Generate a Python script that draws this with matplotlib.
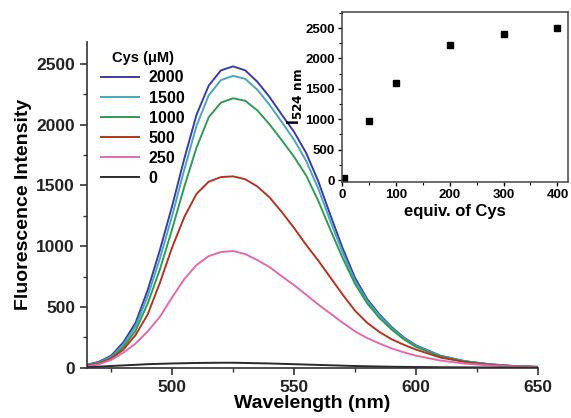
import matplotlib
matplotlib.use("Agg")
import matplotlib.pyplot as plt
from matplotlib.ticker import MultipleLocator

plt.rcParams['font.family'] = ['Liberation Sans', 'DejaVu Sans']
plt.rcParams['font.weight'] = 'bold'

# lunghezze d'onda (nm)
wavelength = [465, 470, 475, 480, 485, 490, 495, 500, 505, 510, 515, 520, 525,
              530, 535, 540, 545, 550, 555, 560, 565, 570, 575, 580, 585, 590,
              595, 600, 610, 620, 630, 640, 650]

# spettri di emissione per ogni concentrazione di Cys
cys_2000 = [25, 50, 100, 210, 370, 640, 970, 1330, 1720, 2080, 2320, 2445, 2478,
            2445, 2350, 2225, 2080, 1940, 1765, 1530, 1250, 980, 740, 565, 440, 335,
            250, 185, 100, 55, 30, 15, 8]
cys_1500 = [22, 45, 90, 190, 340, 590, 900, 1250, 1630, 1990, 2240, 2365, 2400,
            2375, 2285, 2160, 2020, 1875, 1700, 1470, 1200, 945, 715, 550, 430, 328,
            245, 180, 98, 54, 29, 15, 8]
cys_1000 = [20, 40, 80, 170, 305, 530, 810, 1140, 1490, 1810, 2060, 2180, 2216,
            2195, 2115, 2000, 1870, 1735, 1580, 1370, 1130, 900, 690, 530, 410, 315,
            235, 172, 94, 52, 28, 14, 7]
cys_500 = [15, 35, 75, 150, 270, 440, 700, 990, 1240, 1430, 1530, 1568, 1574,
           1550, 1490, 1400, 1280, 1150, 1010, 880, 740, 600, 470, 370, 295, 235,
           190, 150, 85, 48, 25, 13, 7]
cys_250 = [10, 30, 65, 125, 200, 300, 420, 580, 730, 845, 918, 952, 960,
           935, 885, 828, 752, 680, 600, 520, 445, 370, 300, 245, 200, 160,
           128, 100, 60, 35, 20, 12, 6]
cys_0 = [5, 10, 15, 20, 25, 30, 33, 36, 38, 40, 41, 42, 42,
         40, 38, 36, 33, 30, 27, 24, 21, 18, 15, 13, 11, 9,
         8, 7, 5, 4, 3, 2, 2]

series = [cys_2000, cys_1500, cys_1000, cys_500, cys_250, cys_0]
labels = ['2000', '1500', '1000', '500', '250', '0']
colors = ['#3b3ba6', '#48a6bf', '#2f9b55', '#b0361f', '#e06aae', '#2a2a2a']

# dati dell'inserto
equiv = [4, 50, 100, 200, 300, 400]
i524 = [40, 970, 1590, 2230, 2410, 2500]

fig = plt.figure(figsize=(5.71, 4.18), dpi=100)

# grafico principale
ax = fig.add_axes([0.152, 0.12, 0.79, 0.78])
for y, lab, col in zip(series, labels, colors):
    ax.plot(wavelength, y, color=col, lw=1.4, label=lab, solid_joinstyle='round')

ax.set_xlim(465, 650)
ax.set_ylim(0, 2680)
ax.xaxis.set_major_locator(MultipleLocator(50))
ax.xaxis.set_minor_locator(MultipleLocator(25))
ax.yaxis.set_major_locator(MultipleLocator(500))
ax.yaxis.set_minor_locator(MultipleLocator(250))
ax.spines['top'].set_visible(False)
ax.spines['right'].set_visible(False)
for s in ['left', 'bottom']:
    ax.spines[s].set_linewidth(1.2)
    ax.spines[s].set_color('#333333')
ax.tick_params(which='major', direction='out', length=5, width=1.1, labelsize=12.5, colors='#222222')
ax.tick_params(which='minor', direction='out', length=3, width=1.0, colors='#333333')
ax.set_xlabel("Wavelength (nm)", fontsize=14, fontweight='bold', labelpad=0)
ax.set_ylabel("Fluorescence Intensity", fontsize=14, fontweight='bold', labelpad=3)

leg = ax.legend(title="Cys (\u03bcM)", loc='upper left', bbox_to_anchor=(0.01, 1.0),
                frameon=False, fontsize=11.5, title_fontproperties={'weight': 'bold', 'size': 10.5},
                handlelength=2.4, handletextpad=0.6, labelspacing=0.32, borderaxespad=0.2)
for t in leg.get_texts():
    t.set_fontweight('bold')

# inserto
axi = fig.add_axes([0.599, 0.565, 0.396, 0.407])
axi.plot(equiv, i524, 's', color='black', ms=4.5)
axi.set_xlim(0, 420)
axi.set_ylim(-30, 2770)
axi.xaxis.set_major_locator(MultipleLocator(100))
axi.xaxis.set_minor_locator(MultipleLocator(50))
axi.yaxis.set_major_locator(MultipleLocator(500))
axi.yaxis.set_minor_locator(MultipleLocator(250))
for s in axi.spines.values():
    s.set_linewidth(1.1)
    s.set_color('#444444')
axi.tick_params(which='major', direction='out', length=3, width=1.0, labelsize=9.5, pad=2)
axi.tick_params(which='minor', direction='out', length=2, width=0.8)
axi.set_xlabel("equiv. of Cys", fontsize=12, fontweight='bold', labelpad=2)
axi.set_ylabel(r"I$_{\mathbf{524\ nm}}$", fontsize=12.5, fontweight='bold', labelpad=1)

fig.savefig("out.png", dpi=100)
